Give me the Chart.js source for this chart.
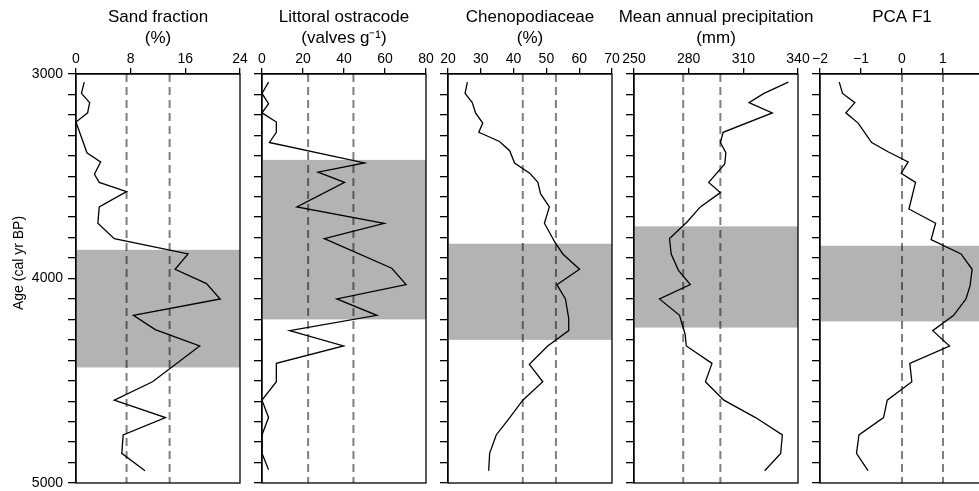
<!DOCTYPE html>
<html>
<head>
<meta charset="utf-8">
<script src="https://cdn.jsdelivr.net/npm/chart.js@4.4.1/dist/chart.umd.min.js"></script>
<style>
  html, body { margin: 0; padding: 0; background: #fff; }
  #wrap { position: relative; width: 979px; height: 491px; overflow: hidden; }
  #wrap canvas { position: absolute; top: 0; }
</style>
</head>
<body>
<div id="wrap"></div>
<script>
// ── Data ──────────────────────────────────────
const ageMin = 3000, ageMax = 5000;

const sandAge = [3040, 3095, 3140, 3190, 3235, 3385, 3430, 3490, 3530, 3575, 3650, 3730, 3805, 3880, 3955, 4025, 4100, 4180, 4250, 4330, 4505, 4595, 4680, 4765, 4855, 4940];
const sandVal = [1.2, 0.8, 2.0, 1.7, 0, 1.6, 3.6, 2.7, 3.4, 7.4, 3.4, 3.2, 5.6, 16.4, 14.5, 19.1, 21.1, 8.4, 11.6, 18.1, 11.2, 5.6, 13.1, 6.9, 6.7, 10.1];
const sandDash = [7.4, 13.7];
const sandBand = [3860, 4435];

const ostrAge = [3040, 3095, 3145, 3190, 3235, 3285, 3335, 3435, 3480, 3530, 3650, 3730, 3805, 3950, 4030, 4100, 4180, 4255, 4330, 4415, 4505, 4595, 4680, 4765, 4855, 4935];
const ostrVal = [3.2, 0, 3.2, 0, 7, 7, 3.6, 50, 27.3, 40.3, 17, 59.6, 30.4, 63.3, 70.3, 36.5, 56, 13.5, 39.8, 7, 7, 0, 3.2, 0, 0, 3.2];
const ostrDash = [22.5, 44.6];
const ostrBand = [3420, 4200];

const chenoAge = [3040, 3095, 3140, 3190, 3240, 3285, 3330, 3375, 3435, 3485, 3530, 3585, 3650, 3730, 3820, 3880, 3955, 4030, 4100, 4195, 4255, 4330, 4420, 4505, 4595, 4685, 4765, 4855, 4940];
const chenoVal = [25.9, 25.2, 27.4, 28.4, 30.6, 29.4, 35.7, 38.8, 40.3, 44.9, 47.4, 48.2, 50.9, 49.4, 52.5, 55.0, 60.1, 53.2, 55.8, 56.8, 56.8, 50.4, 44.8, 48.9, 42.8, 38.6, 34.7, 32.7, 32.4];
const chenoDash = [42.8, 52.9];
const chenoBand = [3830, 4300];

const precAge = [3040, 3095, 3140, 3190, 3285, 3335, 3385, 3440, 3530, 3580, 3650, 3725, 3805, 3880, 3960, 4030, 4100, 4180, 4275, 4330, 4415, 4505, 4595, 4680, 4765, 4855, 4940];
const precVal = [334.7, 321.3, 313.1, 325.9, 298.9, 297.4, 300.4, 299.8, 291.0, 297.4, 286.4, 279.0, 269.5, 270.4, 274.4, 280.9, 264.0, 275.0, 278.1, 278.7, 292.8, 289.2, 299.3, 316.7, 331.4, 330.5, 321.7];
const precDash = [277, 297.4];
const precBand = [3745, 4240];

const pcaAge = [3040, 3095, 3140, 3190, 3240, 3335, 3380, 3430, 3485, 3530, 3660, 3730, 3810, 3880, 3955, 4035, 4100, 4180, 4255, 4330, 4415, 4505, 4595, 4680, 4765, 4855, 4940];
const pcaVal = [-1.53, -1.45, -1.15, -1.37, -1.07, -0.74, -0.34, 0.15, -0.02, 0.33, 0.17, 0.82, 0.71, 1.44, 1.71, 1.66, 1.56, 1.26, 0.75, 1.16, 0.19, 0.24, -0.36, -0.45, -1.05, -1.11, -0.83];
const pcaDash = [0, 1];
const pcaBand = [3840, 4210];

const panels = [
  { title: ['Sand fraction', '(%)'],            ages: sandAge,  vals: sandVal,  dash: sandDash,  band: sandBand,  min: 0,   max: 24,  step: 8 },
  { title: ['Littoral ostracode', '(valves g\u207B\u00B9)'], ages: ostrAge, vals: ostrVal, dash: ostrDash, band: ostrBand, min: 0, max: 80, step: 20 },
  { title: ['Chenopodiaceae', '(%)'],           ages: chenoAge, vals: chenoVal, dash: chenoDash, band: chenoBand, min: 20,  max: 70,  step: 10 },
  { title: ['Mean annual precipitation', '(mm)'], ages: precAge, vals: precVal, dash: precDash, band: precBand, min: 250, max: 340, step: 30 },
  { title: ['PCA F1', ''],                      ages: pcaAge,   vals: pcaVal,   dash: pcaDash,   band: pcaBand,   min: -2,  max: 2,   step: 1 },
];

// ── Layout ────────────────────────────────────
const panelLeft = [76, 262, 448, 634, 820];
const SIDE = 76, PLOT_W = 164, H = 491;

Chart.defaults.font.family = '"Liberation Sans", Arial, sans-serif';
Chart.defaults.color = '#000';

const fmt = v => v < 0 ? '\u2212' + Math.abs(v) : String(v);

// gray band under the lines + box frame around the plot
const bandPlugin = {
  id: 'band',
  beforeDatasetsDraw(chart, args, opts) {
    const { ctx, chartArea: a, scales: { y } } = chart;
    const y0 = y.getPixelForValue(opts.from);
    const y1 = y.getPixelForValue(opts.to);
    ctx.save();
    ctx.fillStyle = '#b3b3b3';
    ctx.fillRect(a.left, y0, a.right - a.left, y1 - y0);
    ctx.restore();
  },
  afterDatasetsDraw(chart) {
    const { ctx, chartArea: a } = chart;
    ctx.save();
    ctx.strokeStyle = '#000';
    ctx.lineWidth = 1.3;
    ctx.strokeRect(a.left, a.top, a.right - a.left, a.bottom - a.top);
    ctx.restore();
  }
};

const ageTitle = {
  id: 'ageTitle',
  afterDraw(chart) {
    const { ctx } = chart;
    ctx.save();
    ctx.translate(19, 263);
    ctx.rotate(-Math.PI / 2);
    ctx.font = '14px "Liberation Sans", Arial, sans-serif';
    ctx.fillStyle = '#000';
    ctx.textAlign = 'center';
    ctx.textBaseline = 'middle';
    ctx.fillText('Age (cal yr BP)', 0, 0);
    ctx.restore();
  }
};

const wrap = document.getElementById('wrap');

panels.forEach((p, i) => {
  const canvas = document.createElement('canvas');
  canvas.width = SIDE * 2 + PLOT_W;
  canvas.height = H;
  canvas.style.left = (panelLeft[i] - SIDE) + 'px';
  wrap.appendChild(canvas);

  const datasets = [{
    data: p.ages.map((a, k) => ({ x: p.vals[k], y: a })),
    borderColor: '#000',
    borderWidth: 1.3,
    pointRadius: 0,
    showLine: true,
    xAxisID: 'x', yAxisID: 'y',
  }];
  p.dash.forEach(v => datasets.push({
    data: [{ x: v, y: ageMin }, { x: v, y: ageMax }],
    borderColor: 'rgba(0,0,0,0.5)',
    borderWidth: 2,
    borderDash: [8, 5],
    pointRadius: 0,
    showLine: true,
    xAxisID: 'x', yAxisID: 'y',
  }));

  new Chart(canvas, {
    type: 'scatter',
    data: { datasets },
    options: {
      responsive: false,
      animation: false,
      events: [],
      layout: { padding: { left: 0, right: 0, top: 0, bottom: 8 } },
      plugins: {
        legend: { display: false },
        tooltip: { enabled: false },
        title: {
          display: true,
          text: p.title,
          color: '#000',
          font: { size: 17, weight: 'normal', lineHeight: '21px' },
          padding: { top: 7, bottom: 0 },
        },
        band: { from: p.band[0], to: p.band[1] },
      },
      scales: {
        x: {
          type: 'linear', position: 'top', min: p.min, max: p.max,
          ticks: { stepSize: p.step, padding: 0, autoSkip: false, maxRotation: 0, font: { size: 14 }, callback: v => fmt(v) },
          grid: { drawOnChartArea: false, tickLength: 6, color: '#000', lineWidth: 1.3 },
          border: { color: '#000', width: 1.3 },
          afterFit: s => { s.height = 25; s.paddingLeft = 0; s.paddingRight = 0; },
        },
        y: {
          type: 'linear', position: 'left', reverse: true, min: ageMin, max: ageMax,
          ticks: {
            stepSize: 100, padding: 5, autoSkip: false, font: { size: 14, lineHeight: 1 },
            callback: v => (i === 0 && v % 1000 === 0) ? String(v) : '',
          },
          grid: { drawOnChartArea: false, tickLength: 8, color: '#000', lineWidth: 1.3 },
          border: { color: '#000', width: 1.3 },
          afterFit: s => { s.width = SIDE; s.paddingTop = 0; s.paddingBottom = 0; },
        },
        yr: {
          type: 'linear', position: 'right', min: 0, max: 1,
          ticks: { display: false },
          grid: { display: false },
          border: { display: false },
          afterFit: s => { s.width = SIDE; s.paddingTop = 0; s.paddingBottom = 0; },
        },
      },
    },
    plugins: i === 0 ? [bandPlugin, ageTitle] : [bandPlugin],
  });
});
</script>
</body>
</html>
